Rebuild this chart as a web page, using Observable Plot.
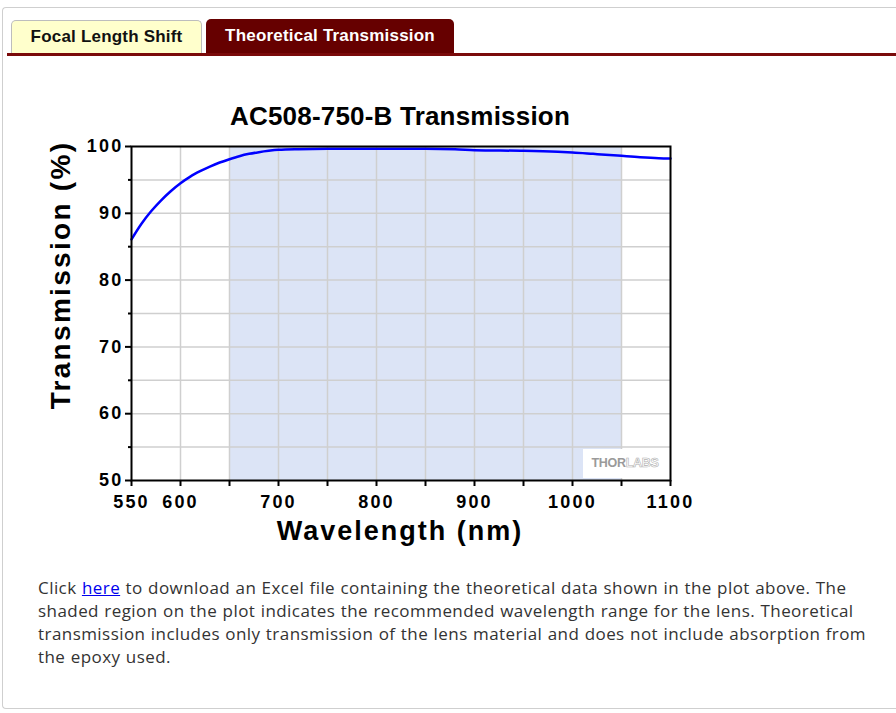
<!DOCTYPE html>
<html>
<head>
<meta charset="utf-8">
<script src="https://cdn.jsdelivr.net/npm/d3@7"></script>
<script src="https://cdn.jsdelivr.net/npm/@observablehq/plot@0.6"></script>
<style>
  html, body { margin: 0; padding: 0; background: #fff; }
  body { width: 896px; height: 713px; overflow: hidden; position: relative; font-family: "Liberation Sans", Arial, sans-serif; }
  #frame { position: absolute; left: 2px; top: 7px; width: 900px; height: 702px; border: 1px solid #cfcfcf; border-right: none; border-radius: 4px 0 0 4px; box-sizing: border-box; }
  .tab { position: absolute; box-sizing: border-box; font-weight: bold; font-size: 17px; letter-spacing: 0.2px; text-align: center; border-radius: 5px 5px 0 0; }
  #tab1 { left: 11px; top: 20px; width: 191px; height: 33px; line-height: 32px; background: #ffffcc; border: 1px solid #bdbdbd; border-bottom: none; color: #111; }
  #tab2 { left: 206px; top: 19px; width: 248px; height: 34px; line-height: 34px; background: #660000; color: #fff; }
  #tabline { position: absolute; left: 7px; width: 889px; top: 53px; height: 3px; background: #7a0a0a; }
  #title { position: absolute; left: 0; width: 800px; top: 101px; text-align: center; font-weight: bold; font-size: 26px; letter-spacing: 0.2px; color: #000; }
  #ylabel { position: absolute; left: 61px; top: 275px; transform: translate(-50%, -50%) rotate(-90deg); white-space: nowrap; font-weight: bold; font-size: 28px; letter-spacing: 2.3px; color: #000; }
  #xlabel { position: absolute; left: 0; width: 800px; top: 516px; text-align: center; font-weight: bold; font-size: 27px; letter-spacing: 2px; color: #000; }
  #chart { position: absolute; left: 0; top: 90px; }
  #logo { position: absolute; left: 583px; top: 449px; width: 84px; height: 29px; background: #fff; font-weight: bold; font-size: 12.5px; line-height: 29px; text-align: center; letter-spacing: -0.3px; }
  #logo .a { color: #9a9a9a; }
  #logo .b { color: #fff; -webkit-text-stroke: 0.6px #b0b0b0; }
  #para { position: absolute; left: 38px; top: 576px; font-family: "Open Sans", sans-serif; font-size: 17px; line-height: 23px; letter-spacing: 0.44px; word-spacing: 0.5px; color: #333; white-space: nowrap; }
  #para a { color: #0000ee; text-decoration: underline; }
</style>
</head>
<body>
<div id="frame"></div>
<div class="tab" id="tab1">Focal Length Shift</div>
<div class="tab" id="tab2">Theoretical Transmission</div>
<div id="tabline"></div>
<div id="title">AC508-750-B Transmission</div>
<div id="ylabel">Transmission (%)</div>
<div id="xlabel">Wavelength (nm)</div>
<div id="chart"></div>
<div id="logo"><span class="a">THOR</span><span class="b">LABS</span></div>
<div id="para">Click <a href="#">here</a> to download an Excel file containing the theoretical data shown in the plot above. The<br>shaded region on the plot indicates the recommended wavelength range for the lens. Theoretical<br>transmission includes only transmission of the lens material and does not include absorption from<br>the epoxy used.</div>
<script>
// Data
const wavelength = [550, 560, 570, 580, 590, 600, 610, 620, 630, 640, 650, 660, 670, 680, 690, 700, 720, 750, 800, 850, 880, 900, 950, 985, 1000, 1021, 1046, 1069, 1088, 1100];
const transmission = [86.1, 88.4, 90.3, 91.9, 93.3, 94.5, 95.5, 96.3, 97.0, 97.6, 98.1, 98.55, 98.9, 99.15, 99.35, 99.5, 99.6, 99.65, 99.65, 99.65, 99.6, 99.45, 99.35, 99.2, 99.1, 98.9, 98.65, 98.4, 98.25, 98.2];
const shadedRange = [650, 1050];
const xDomain = [550, 1100];
const yDomain = [50, 100];
const xTicks = [550, 600, 650, 700, 750, 800, 850, 900, 950, 1000, 1050, 1100];
const xTickLabels = [550, 600, 700, 800, 900, 1000, 1100];
const yTicks = [50, 60, 70, 80, 90, 100];
const yMinorTicks = [55, 65, 75, 85, 95];
const xGrid = [600, 650, 700, 750, 800, 850, 900, 950, 1000, 1050];
const yGrid = [55, 60, 65, 70, 75, 80, 85, 90, 95];

const data = wavelength.map((w, i) => ({w, t: transmission[i]}));

const chart = Plot.plot({
  width: 720,
  height: 440,
  marginTop: 56,
  marginBottom: 50,
  marginLeft: 131,
  marginRight: 50,
  style: {fontFamily: "'Liberation Sans', Arial, sans-serif", fontSize: "18px", fontWeight: "bold", color: "#000", background: "transparent", letterSpacing: "2.2px"},
  x: {domain: xDomain},
  y: {domain: yDomain},
  marks: [
    Plot.rect([shadedRange], {x1: d => d[0], x2: d => d[1], y1: () => yDomain[0], y2: () => yDomain[1], fill: "#dce4f6"}),
    Plot.ruleX(xGrid, {stroke: "#cfcfcf", strokeWidth: 1.5}),
    Plot.ruleY(yGrid, {stroke: "#cfcfcf", strokeWidth: 1.5}),
    Plot.line(data, {x: "w", y: "t", stroke: "#0000ff", strokeWidth: 2.5, curve: "monotone-x"}),
    Plot.frame({stroke: "#000", strokeWidth: 2}),
    Plot.axisX({ticks: xTicks, tickSize: 6, tickPadding: 9, tickFormat: d => xTickLabels.includes(d) ? String(d) : "", stroke: "#000", strokeWidth: 2, label: null}),
    Plot.axisY({ticks: yTicks, tickSize: 6, tickPadding: 2, tickFormat: d => String(d), stroke: "#000", strokeWidth: 2, label: null}),
    Plot.axisY({ticks: yMinorTicks, tickSize: 3, tickFormat: () => "", stroke: "#000", strokeWidth: 2, label: null})
  ]
});
document.getElementById("chart").appendChild(chart);
</script>
</body>
</html>
